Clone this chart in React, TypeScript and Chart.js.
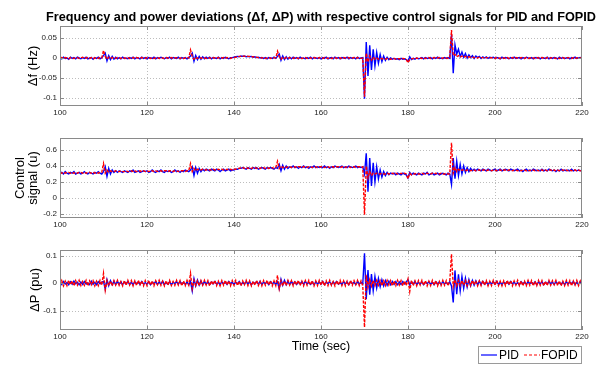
import React, { useEffect, useRef } from 'react';
import { Chart, registerables } from 'chart.js';

Chart.register(...registerables);

// Simulation output sampled every 0.4 s from t = 100 s to t = 220 s
const T0 = 100;
const DT = 0.4;

// Frequency deviation Δf (Hz)
const dfPid = [
  .001, -.002, .002, -.001, 0, -.003, .002, -.001, .001, -.002, .002, 0, -.002, .001, -.001, .002, -.002, 0, .001, -.003, .001, -.001, .002, -.002, .001,
  .006, .012, -.007, .006, -.004, .004, -.003, .002, -.002, .001, -.002, .002, -.001, 0, -.002, .001, -.001, .002, -.002, .001, 0, -.002, .002, -.001, .001,
  -.002, .001, 0, -.001, .002, -.002, .001, -.001, .002, 0, -.002, .001, -.001, .002, -.002, .001, 0, -.001, .002, -.002, .001, -.001, .001, -.002, .001,
  .005, .012, -.008, .006, -.004, .004, -.003, .003, -.002, .002, -.001, .002, -.002, .001, 0, -.001, .002, -.002, .001, -.001, .002, 0, -.002, .001, .001,
  .002, .003, .004, .003, .005, .004, .005, .003, .004, .003, .004, .002, .003, .001, .002, 0, .001, -.001, .001, -.002, .001, 0, -.001, .002, -.001,
  .004, .010, -.006, .005, -.004, .003, -.003, .002, -.002, .002, -.001, .001, -.002, .002, -.001, 0, -.002, .001, -.001, .002, -.002, .001, 0, -.001, .001,
  -.002, .001, -.001, .002, -.002, 0, .001, -.002, .002, -.001, .001, -.002, .001, 0, -.001, .002, -.002, .001, -.001, .001, -.002, .002, -.001, 0, .001,
  -.102, .040, -.045, .032, -.030, .022, -.020, .014, -.013, .009, -.009, .005, -.006, .002, -.004, 0, -.003, -.001, -.003, -.002, -.004, -.001, -.003, -.002, -.004,
  -.008, .003, -.004, -.001, -.003, 0, -.002, -.001, .001, -.002, .001, -.001, 0, .001, -.002, .001, -.001, .002, -.001, 0, -.002, .001, -.001, .001, -.001,
  .058, -.038, .033, .010, .022, .004, .015, .002, .011, 0, .008, .001, .006, -.001, .005, .001, .004, -.001, .003, 0, .003, -.001, .002, .001, .002,
  -.001, .001, 0, -.002, .002, -.001, .001, 0, -.002, .001, -.001, .002, -.001, 0, .001, -.002, .001, -.001, .002, 0, -.001, .001, -.002, .001, 0,
  .001, -.002, .001, 0, -.001, .002, -.002, .001, -.001, .001, 0, -.002, .002, -.001, .001, -.001, 0, .001, -.002, .001, -.001, .002, -.001, 0, .001,
  -.001,
];
const dfFopid = [
  0, .001, -.001, .001, 0, -.002, .001, 0, -.001, .001, .001, -.001, 0, .002, -.001, 0, .001, -.001, .001, -.002, 0, .001, -.001, .001, 0,
  .019, .004, -.003, .002, -.001, .001, 0, -.001, .001, 0, -.001, .001, 0, -.001, .001, -.001, 0, .001, -.001, .001, 0, -.001, .001, 0, -.001,
  .001, 0, -.001, .001, -.001, 0, .001, -.001, .001, 0, -.001, .001, 0, -.001, .001, -.001, 0, .001, 0, -.001, .001, -.001, 0, .001, 0,
  .020, .004, -.003, .002, -.001, .001, -.001, .001, 0, -.001, .001, 0, -.001, .001, 0, -.001, .001, -.001, 0, .001, -.001, .001, 0, -.001, .001,
  .001, .002, .003, .004, .004, .005, .004, .005, .004, .004, .003, .003, .002, .002, .001, .001, 0, .001, -.001, 0, .001, -.001, 0, .001, 0,
  .017, .003, -.003, .002, -.001, .001, -.001, .001, 0, -.001, .001, 0, -.001, .001, -.001, 0, .001, -.001, .001, 0, -.001, .001, 0, -.001, .001,
  0, -.001, .001, 0, -.001, .001, -.001, 0, .001, -.001, .001, 0, -.001, .001, 0, -.001, .001, -.001, 0, .001, -.001, .001, 0, -.001, 0,
  -.097, .012, -.010, .005, -.005, .002, -.003, 0, -.003, -.001, -.002, -.002, -.003, -.001, -.002, -.003, -.002, -.001, -.003, -.002, -.002, -.003, -.001, -.002, -.003,
  -.012, -.004, -.002, -.001, -.002, 0, -.001, 0, -.001, .001, -.001, 0, .001, -.001, 0, .001, -.001, 0, .001, -.001, 0, .001, 0, -.001, .001,
  .070, .006, .009, .003, .006, .002, .005, .002, .004, .001, .003, .002, .002, .001, .002, 0, .002, .001, .001, 0, .001, .001, 0, .001, 0,
  -.001, .001, 0, -.001, .001, 0, -.001, .001, -.001, 0, .001, -.001, .001, 0, -.001, .001, 0, -.001, .001, -.001, 0, .001, 0, -.001, .001,
  0, -.001, .001, 0, -.001, .001, -.001, 0, .001, 0, -.001, .001, -.001, 0, .001, -.001, 0, .001, 0, -.001, .001, -.001, 0, .001, 0,
  0,
];

// Control signal u
const uPid = [
  .31, .32, .30, .33, .31, .30, .32, .31, .33, .30, .31, .32, .30, .31, .33, .31, .30, .32, .31, .30, .32, .31, .33, .31, .30,
  .33, .39, .27, .37, .30, .35, .32, .34, .32, .34, .33, .32, .34, .33, .32, .34, .33, .35, .32, .33, .34, .32, .33, .34, .33,
  .34, .32, .33, .35, .33, .32, .34, .33, .35, .33, .32, .34, .33, .34, .32, .33, .35, .33, .34, .32, .34, .33, .35, .34, .33,
  .35, .39, .28, .38, .31, .37, .33, .36, .34, .36, .35, .34, .36, .35, .34, .36, .35, .33, .35, .36, .34, .35, .36, .34, .35,
  .35, .36, .36, .37, .37, .38, .37, .36, .38, .37, .36, .38, .37, .38, .36, .37, .38, .37, .36, .38, .37, .38, .37, .36, .38,
  .37, .42, .34, .41, .36, .40, .37, .39, .38, .40, .38, .39, .37, .39, .38, .40, .38, .39, .37, .39, .38, .40, .38, .39, .38,
  .39, .38, .40, .38, .39, .37, .39, .38, .40, .39, .38, .39, .40, .38, .39, .38, .40, .39, .38, .39, .40, .38, .39, .38, .39,
  .30, .56, .08, .50, .15, .44, .20, .39, .24, .35, .26, .33, .28, .32, .29, .31, .30, .31, .29, .31, .30, .29, .31, .30, .29,
  .25, .32, .29, .31, .30, .29, .31, .30, .29, .31, .30, .32, .29, .30, .31, .29, .30, .31, .29, .30, .31, .30, .29, .31, .30,
  .17, .50, .24, .46, .28, .42, .30, .40, .32, .38, .33, .37, .34, .36, .34, .36, .35, .34, .36, .35, .34, .36, .35, .34, .35,
  .36, .34, .35, .36, .34, .35, .36, .35, .34, .36, .35, .34, .35, .36, .34, .35, .33, .35, .36, .34, .35, .34, .36, .35, .34,
  .35, .34, .36, .34, .35, .34, .36, .35, .34, .35, .33, .35, .34, .36, .34, .35, .34, .35, .34, .36, .34, .35, .34, .35, .34,
  .35,
];
const uFopid = [
  .32, .31, .32, .31, .32, .32, .31, .32, .31, .32, .31, .32, .32, .31, .32, .31, .32, .32, .31, .32, .31, .32, .31, .32, .32,
  .43, .31, .35, .32, .34, .33, .33, .34, .33, .33, .34, .33, .33, .34, .33, .33, .34, .33, .34, .33, .33, .34, .33, .34, .33,
  .34, .33, .34, .34, .33, .34, .33, .34, .34, .33, .34, .34, .33, .34, .34, .33, .34, .34, .33, .34, .34, .34, .33, .34, .34,
  .43, .33, .37, .34, .36, .35, .35, .36, .35, .35, .36, .35, .35, .36, .35, .35, .36, .35, .36, .35, .35, .36, .35, .36, .35,
  .36, .36, .37, .37, .38, .38, .37, .38, .37, .38, .37, .38, .38, .37, .38, .37, .38, .38, .37, .38, .37, .38, .38, .37, .38,
  .46, .37, .40, .38, .39, .38, .39, .39, .38, .39, .39, .38, .39, .39, .38, .39, .39, .38, .39, .39, .38, .39, .39, .38, .39,
  .39, .39, .38, .39, .39, .38, .39, .39, .38, .39, .39, .38, .39, .39, .38, .39, .39, .38, .39, .39, .38, .39, .39, .38, .39,
  -.21, .40, .25, .33, .28, .31, .30, .31, .30, .30, .31, .30, .30, .31, .30, .30, .31, .30, .31, .30, .30, .31, .30, .31, .30,
  .24, .31, .29, .30, .30, .31, .30, .30, .31, .30, .30, .31, .30, .30, .31, .30, .31, .30, .30, .31, .30, .30, .31, .30, .30,
  .69, .31, .38, .33, .36, .34, .35, .35, .34, .35, .35, .34, .35, .35, .34, .35, .35, .34, .35, .35, .34, .35, .35, .34, .35,
  .35, .34, .35, .35, .34, .35, .35, .34, .35, .35, .34, .35, .35, .34, .35, .34, .35, .35, .34, .35, .34, .35, .35, .34, .35,
  .34, .35, .35, .34, .35, .34, .35, .35, .34, .35, .34, .35, .34, .35, .35, .34, .35, .34, .35, .34, .35, .35, .34, .35, .34,
  .35,
];

// Power deviation ΔP (pu)
const dpPid = [
  .004, -.005, .006, -.003, .002, -.006, .005, -.004, .007, -.002, .003, -.006, .004, -.005, .006, -.003, .001, -.005, .007, -.004, .003, -.006, .005, -.002, .004,
  .006, -.022, .013, -.009, .009, -.006, .007, -.005, .006, -.004, .005, -.006, .004, -.003, .006, -.005, .003, -.006, .005, -.002, .004, -.005, .006, -.003, .002,
  -.004, .005, -.006, .003, -.002, .006, -.005, .004, -.003, .007, -.005, .002, -.004, .005, -.006, .003, -.002, .005, -.004, .006, -.003, .002, -.005, .004, -.006,
  .006, -.028, .016, -.010, .011, -.007, .008, -.006, .006, -.004, .005, -.005, .004, -.003, .006, -.004, .003, -.006, .005, -.003, .004, -.005, .006, -.002, .003,
  -.005, .004, -.003, .006, -.005, .002, -.004, .006, -.003, .005, -.006, .003, -.002, .005, -.004, .006, -.005, .003, -.002, .004, -.006, .005, -.003, .004, -.005,
  .005, -.020, .014, -.008, .010, -.006, .007, -.005, .006, -.004, .005, -.005, .004, -.003, .005, -.004, .006, -.003, .002, -.005, .004, -.006, .005, -.003, .004,
  -.004, .006, -.005, .003, -.002, .005, -.006, .004, -.003, .006, -.004, .002, -.005, .005, -.003, .004, -.006, .005, -.002, .003, -.005, .006, -.004, .003, -.003,
  .108, -.058, .047, -.042, .033, -.028, .024, -.018, .017, -.013, .012, -.010, .009, -.008, .007, -.006, .006, -.005, .005, -.006, .004, -.005, .006, -.003, .004,
  .012, -.006, .005, -.004, .006, -.005, .003, -.004, .005, -.006, .004, -.002, .005, -.004, .003, -.006, .005, -.003, .004, -.005, .006, -.003, .002, -.004, .005,
  -.010, -.070, .046, -.040, .032, -.028, .024, -.019, .018, -.014, .013, -.010, .010, -.008, .008, -.006, .007, -.005, .006, -.004, .005, -.006, .004, -.003, .005,
  -.004, .006, -.005, .003, -.006, .004, -.002, .005, -.004, .006, -.003, .004, -.005, .002, -.006, .005, -.003, .004, -.005, .006, -.002, .003, -.004, .005, -.006,
  .004, -.003, .005, -.006, .003, -.004, .006, -.002, .004, -.005, .006, -.003, .002, -.005, .004, -.006, .005, -.003, .004, -.002, .006, -.005, .003, -.004, .005,
  -.003,
];
const dpFopid = [
  -.008, .009, -.010, .007, -.009, .010, -.006, .008, -.010, .009, -.007, .010, -.009, .006, -.008, .010, -.010, .008, -.006, .009, -.010, .007, -.009, .010, -.008,
  .035, -.026, .010, -.009, .008, -.010, .009, -.007, .010, -.008, .006, -.010, .009, -.008, .010, -.007, .009, -.010, .008, -.009, .010, -.006, .008, -.010, .009,
  -.009, .010, -.007, .008, -.010, .009, -.006, .010, -.008, .007, -.010, .009, -.008, .010, -.009, .006, -.008, .010, -.007, .009, -.010, .008, -.009, .010, -.007,
  .035, -.020, .010, -.009, .008, -.010, .009, -.008, .010, -.007, .009, -.010, .008, -.006, .010, -.009, .007, -.010, .009, -.008, .010, -.007, .008, -.010, .009,
  -.008, .010, -.009, .007, -.010, .008, -.006, .010, -.009, .008, -.010, .007, -.008, .010, -.009, .006, -.010, .009, -.008, .010, -.007, .009, -.010, .008, -.009,
  .028, -.020, .009, -.010, .008, -.009, .010, -.007, .009, -.010, .008, -.006, .010, -.009, .007, -.010, .009, -.008, .010, -.007, .009, -.010, .008, -.009, .010,
  -.007, .009, -.010, .008, -.009, .010, -.008, .006, -.010, .009, -.007, .010, -.009, .008, -.010, .007, -.009, .010, -.008, .009, -.006, .010, -.009, .008, -.010,
  -.160, .030, -.015, .012, -.011, .010, -.009, .010, -.008, .009, -.010, .008, -.009, .010, -.007, .009, -.010, .008, -.009, .010, -.007, .009, -.010, .008, -.009,
  .015, -.030, .010, -.009, .008, -.010, .009, -.007, .010, -.008, .009, -.010, .007, -.009, .010, -.008, .009, -.010, .006, -.009, .010, -.008, .009, -.010, .007,
  .105, -.012, .012, -.010, .010, -.009, .010, -.008, .009, -.010, .008, -.009, .010, -.007, .009, -.010, .008, -.009, .010, -.008, .009, -.010, .007, -.009, .010,
  -.008, .010, -.009, .007, -.010, .008, -.009, .010, -.006, .009, -.010, .008, -.007, .010, -.009, .008, -.010, .007, -.009, .010, -.008, .009, -.010, .007, -.009,
  .010, -.008, .009, -.010, .007, -.009, .010, -.008, .009, -.006, .010, -.009, .008, -.010, .007, -.009, .010, -.008, .009, -.010, .008, -.007, .010, -.009, .008,
  -.009,
];

const time = dfPid.map((_, i) => +(T0 + i * DT).toFixed(1));

const timeTicks = [100, 120, 140, 160, 180, 200, 220];
const dfTicks = [-0.1, -0.05, 0, 0.05];
const uTicks = [-0.2, 0, 0.2, 0.4, 0.6];
const dpTicks = [-0.1, 0, 0.1];

const seriesNames = ['PID', 'FOPID'];
const chartTitle = 'Frequency and power deviations (\u0394f, \u0394P) with respective control signals for PID and FOPID';
const xTitle = 'Time (sec)';

const FONT = '"Liberation Sans", Arial, Helvetica, sans-serif';
const PID_COLOR = '#0000ff';
const FOPID_COLOR = '#ff0000';
const FOPID_DASH = [3, 1.5];
const LINE_W = 1.4;
const FRAME_COLOR = '#8a8a8a';
const GRID_COLOR = '#bdbdbd';
const WIDTH = 611;
const AREA_LEFT = 60;
const AREA_RIGHT = 582;
const AREA_H = 80;
const LABEL_SIZE = 13;

type PanelDef = {
  pid: number[];
  fopid: number[];
  min: number;
  max: number;
  ticks: number[];
  yTitle: string | string[];
  yTitlePad: number;
  top: number;
  padTop: number;
  xAxisH: number;
  showTitle?: boolean;
  showXTitle?: boolean;
  showLegend?: boolean;
};

const panels: PanelDef[] = [
  { pid: dfPid, fopid: dfFopid, min: -0.12, max: 0.08, ticks: dfTicks, yTitle: '\u0394f (Hz)', yTitlePad: 26.5, top: 0, padTop: 26, xAxisH: 16, showTitle: true },
  { pid: uPid, fopid: uFopid, min: -0.25, max: 0.75, ticks: uTicks, yTitle: ['Control', 'signal (u)'], yTitlePad: 13.5, top: 122, padTop: 16, xAxisH: 16 },
  { pid: dpPid, fopid: dpFopid, min: -0.17, max: 0.12, ticks: dpTicks, yTitle: '\u0394P (pu)', yTitlePad: 28.5, top: 234, padTop: 16, xAxisH: 35, showXTitle: true, showLegend: true },
];

function framePlugin(p: PanelDef) {
  return {
    id: 'axesFrame',
    beforeDatasetsDraw(chart: any) {
      const { ctx, chartArea: a, scales } = chart;
      const xs = scales.x;
      const ys = scales.y;
      ctx.save();
      ctx.strokeStyle = GRID_COLOR;
      ctx.lineWidth = 1;
      ctx.setLineDash([1, 2]);
      ctx.beginPath();
      xs.ticks.forEach((t: any) => {
        const px = Math.round(xs.getPixelForValue(t.value)) + 0.5;
        if (px > a.left + 2 && px < a.right - 2) {
          ctx.moveTo(px, a.top);
          ctx.lineTo(px, a.bottom);
        }
      });
      ys.ticks.forEach((t: any) => {
        const py = Math.round(ys.getPixelForValue(t.value)) + 0.5;
        ctx.moveTo(a.left, py);
        ctx.lineTo(a.right, py);
      });
      ctx.stroke();
      ctx.restore();
    },
    afterDatasetsDraw(chart: any) {
      const { ctx, chartArea: a, scales } = chart;
      const xs = scales.x;
      const ys = scales.y;
      const tick = 4;
      ctx.save();
      ctx.strokeStyle = FRAME_COLOR;
      ctx.lineWidth = 1;
      ctx.setLineDash([]);
      ctx.strokeRect(a.left + 0.5, a.top + 0.5, a.right - a.left - 1, a.bottom - a.top - 1);
      ctx.beginPath();
      xs.ticks.forEach((t: any) => {
        const px = Math.round(xs.getPixelForValue(t.value)) + 0.5;
        ctx.moveTo(px, a.bottom);
        ctx.lineTo(px, a.bottom - tick);
        ctx.moveTo(px, a.top);
        ctx.lineTo(px, a.top + tick);
      });
      ys.ticks.forEach((t: any) => {
        const py = Math.round(ys.getPixelForValue(t.value)) + 0.5;
        ctx.moveTo(a.left, py);
        ctx.lineTo(a.left + tick, py);
        ctx.moveTo(a.right, py);
        ctx.lineTo(a.right - tick, py);
      });
      ctx.stroke();
      ctx.restore();
    },
    afterDraw(chart: any) {
      const { ctx, chartArea: a } = chart;
      ctx.save();
      if (p.showTitle) {
        ctx.fillStyle = '#000';
        ctx.font = `bold 12.7px ${FONT}`;
        ctx.textAlign = 'center';
        ctx.textBaseline = 'alphabetic';
        ctx.fillText(chartTitle, (a.left + a.right) / 2, 21);
      }
      if (p.showLegend) {
        const bx = 478.5;
        const by = 112.5;
        const cy = 121;
        ctx.fillStyle = '#fff';
        ctx.fillRect(bx, by, 103, 17);
        ctx.strokeStyle = '#9a9a9a';
        ctx.lineWidth = 1;
        ctx.strokeRect(bx, by, 103, 17);
        ctx.font = `12px ${FONT}`;
        ctx.textBaseline = 'middle';
        ctx.textAlign = 'left';
        ctx.lineWidth = 1.2;
        ctx.strokeStyle = PID_COLOR;
        ctx.beginPath();
        ctx.moveTo(481, cy);
        ctx.lineTo(497, cy);
        ctx.stroke();
        ctx.fillStyle = '#000';
        ctx.fillText(seriesNames[0], 499, cy + 0.5);
        ctx.strokeStyle = FOPID_COLOR;
        ctx.setLineDash([3, 2]);
        ctx.beginPath();
        ctx.moveTo(524, cy);
        ctx.lineTo(540, cy);
        ctx.stroke();
        ctx.setLineDash([]);
        ctx.fillText(seriesNames[1], 541, cy + 0.5);
      }
      ctx.restore();
    },
  };
}

function Panel({ p }: { p: PanelDef }) {
  const ref = useRef<HTMLCanvasElement>(null);
  const height = p.padTop + AREA_H + p.xAxisH;

  useEffect(() => {
    const canvas = ref.current;
    if (!canvas) return;
    const tickFont = { size: 8, family: FONT };
    const chart = new Chart(canvas, {
      type: 'line',
      data: {
        labels: time,
        datasets: [
          {
            label: seriesNames[1],
            data: p.fopid,
            borderColor: FOPID_COLOR,
            borderWidth: LINE_W,
            borderDash: FOPID_DASH,
            pointRadius: 0,
            tension: 0,
            order: 0,
          },
          {
            label: seriesNames[0],
            data: p.pid,
            borderColor: PID_COLOR,
            borderWidth: LINE_W,
            pointRadius: 0,
            tension: 0,
            order: 1,
          },
        ],
      },
      options: {
        responsive: false,
        animation: false,
        events: [],
        layout: { padding: { top: p.padTop, right: WIDTH - AREA_RIGHT, left: 0, bottom: 0 } },
        plugins: {
          legend: { display: false },
          tooltip: { enabled: false },
          title: { display: false },
        },
        scales: {
          x: {
            type: 'linear',
            min: 100,
            max: 220,
            afterBuildTicks: (s: any) => {
              s.ticks = timeTicks.map((v) => ({ value: v }));
            },
            afterFit: (s: any) => {
              s.height = p.xAxisH;
            },
            grid: { display: false, drawTicks: false },
            border: { display: false },
            ticks: {
              padding: 2,
              font: tickFont,
              color: '#222',
              maxRotation: 0,
              autoSkip: false,
              callback: (v: any) => String(v),
            },
            title: {
              display: !!p.showXTitle,
              text: xTitle,
              color: '#000',
              font: { size: 12.5, family: FONT, lineHeight: 1 },
              padding: { top: 0, bottom: 11.75 },
            },
          },
          y: {
            type: 'linear',
            min: p.min,
            max: p.max,
            afterBuildTicks: (s: any) => {
              s.ticks = p.ticks.map((v) => ({ value: v }));
            },
            afterFit: (s: any) => {
              s.width = AREA_LEFT;
            },
            grid: { display: false, drawTicks: false },
            border: { display: false },
            ticks: {
              padding: 3,
              font: tickFont,
              color: '#222',
              autoSkip: false,
              callback: (v: any) => String(v),
            },
            title: {
              display: true,
              text: p.yTitle,
              color: '#000',
              font: { size: LABEL_SIZE, family: FONT, lineHeight: 1 },
              padding: { top: p.yTitlePad, bottom: 0 },
            },
          },
        },
      } as any,
      plugins: [framePlugin(p)],
    });
    return () => chart.destroy();
  }, [p]);

  return (
    <canvas
      ref={ref}
      width={WIDTH}
      height={height}
      style={{ position: 'absolute', left: 0, top: p.top, width: WIDTH, height }}
    />
  );
}

export default function App() {
  return (
    <div
      style={{
        position: 'fixed',
        left: 0,
        top: 0,
        width: WIDTH,
        height: 365,
        background: '#ffffff',
        overflow: 'hidden',
      }}
    >
      {panels.map((p, i) => (
        <Panel key={i} p={p} />
      ))}
    </div>
  );
}
